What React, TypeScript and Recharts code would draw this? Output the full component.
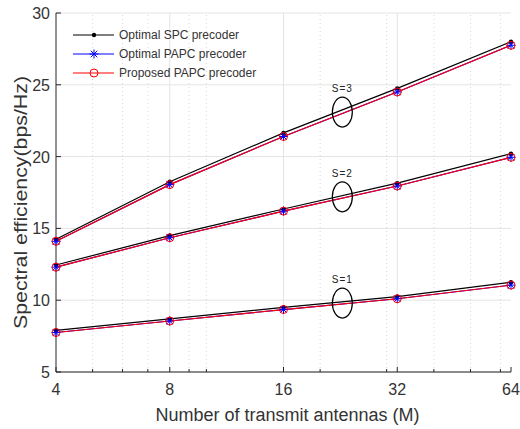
import { LineChart, Line, XAxis, YAxis, CartesianGrid, ReferenceLine, ReferenceDot } from 'recharts'

const ANTENNAS = [4, 8, 16, 32, 64]
const MINOR_X = [5, 6, 7, 9, 10, 20, 30, 40, 50, 60]
const Y_TICKS = [5, 10, 15, 20, 25, 30]

// optimal SPC precoder (black)
const spcS1 = [7.9, 8.7, 9.5, 10.25, 11.25]
const spcS2 = [12.45, 14.5, 16.35, 18.15, 20.2]
const spcS3 = [14.25, 18.25, 21.65, 24.75, 28.0]
// optimal PAPC precoder (blue)
const papcS1 = [7.75, 8.55, 9.35, 10.1, 11.05]
const papcS2 = [12.3, 14.35, 16.2, 17.95, 19.95]
const papcS3 = [14.1, 18.05, 21.4, 24.5, 27.75]
// proposed PAPC precoder (red)
const propS1 = [7.75, 8.55, 9.35, 10.1, 11.05]
const propS2 = [12.3, 14.35, 16.2, 17.95, 19.95]
const propS3 = [14.1, 18.05, 21.4, 24.5, 27.75]

// annotation ellipses: label, x (antennas), y (bps/Hz)
const GROUPS = [
  { label: 'S=1', m: 22.9, y: 9.8 },
  { label: 'S=2', m: 22.9, y: 17.2 },
  { label: 'S=3', m: 22.9, y: 23.1 },
]

const data = ANTENNAS.map((m, i) => ({
  m,
  spc1: spcS1[i], spc2: spcS2[i], spc3: spcS3[i],
  papc1: papcS1[i], papc2: papcS2[i], papc3: papcS3[i],
  prop1: propS1[i], prop2: propS2[i], prop3: propS3[i],
}))

const FONT = '"Liberation Sans", Arial, sans-serif'
const AXIS = '#262626'
const TEXT = '#333333'

function SpcDot({ cx, cy }: any) {
  if (cx == null || cy == null) return null
  return <circle cx={cx} cy={cy} r={2.2} fill="#000" />
}

function StarDot({ cx, cy }: any) {
  if (cx == null || cy == null) return null
  const s = 4.5
  const d = s * 0.72
  return (
    <g stroke="#0000ff" strokeWidth={1}>
      <line x1={cx - s} y1={cy} x2={cx + s} y2={cy} />
      <line x1={cx} y1={cy - s} x2={cx} y2={cy + s} />
      <line x1={cx - d} y1={cy - d} x2={cx + d} y2={cy + d} />
      <line x1={cx - d} y1={cy + d} x2={cx + d} y2={cy - d} />
    </g>
  )
}

function CircleDot({ cx, cy }: any) {
  if (cx == null || cy == null) return null
  return <circle cx={cx} cy={cy} r={4} fill="none" stroke="#ff0000" strokeWidth={1} />
}

function BottomTick({ x, y, payload }: any) {
  const major = ANTENNAS.includes(payload.value)
  return (
    <g>
      <line x1={x} y1={y} x2={x} y2={y - (major ? 5 : 3)} stroke={AXIS} />
      {major && (
        <text x={x} y={y + 23} textAnchor="middle" fontSize={16} fill={TEXT} fontFamily={FONT}>
          {payload.value}
        </text>
      )}
    </g>
  )
}

function TopTick({ x, y, payload }: any) {
  const major = ANTENNAS.includes(payload.value)
  return <line x1={x} y1={y} x2={x} y2={y + (major ? 5 : 3)} stroke={AXIS} />
}

function LeftTick({ x, y, payload }: any) {
  return (
    <g>
      <line x1={x} y1={y} x2={x + 5} y2={y} stroke={AXIS} />
      <text x={x - 6} y={y + 6} textAnchor="end" fontSize={16} fill={TEXT} fontFamily={FONT}>
        {payload.value}
      </text>
    </g>
  )
}

function RightTick({ x, y }: any) {
  return <line x1={x} y1={y} x2={x - 5} y2={y} stroke={AXIS} />
}

function YLabel({ viewBox }: any) {
  const cx = 21
  const cy = viewBox.y + viewBox.height / 2 + 10
  return (
    <text
      x={cx}
      y={cy}
      transform={`rotate(-90 ${cx} ${cy})`}
      textAnchor="middle"
      dominantBaseline="central"
      fontSize={18}
      fill={TEXT}
      fontFamily={FONT}
      textLength={253}
      lengthAdjust="spacingAndGlyphs"
    >
      Spectral efficiency(bps/Hz)
    </text>
  )
}

function XLabel({ viewBox }: any) {
  const cx = viewBox.x + viewBox.width / 2 + 4
  return (
    <text x={cx} y={421} textAnchor="middle" fontSize={18} fill={TEXT} fontFamily={FONT}>
      Number of transmit antennas (M)
    </text>
  )
}

function GroupMark({ cx, cy, label }: any) {
  if (cx == null || cy == null) return null
  return (
    <g>
      <ellipse cx={cx} cy={cy} rx={10} ry={15} fill="none" stroke="#000" strokeWidth={1.2} />
      <text x={cx} y={cy - 20} textAnchor="middle" fontSize={10} fill="#222" fontFamily={FONT} letterSpacing={1}>
        {label}
      </text>
    </g>
  )
}

const LEGEND_ITEMS = [
  { name: 'Optimal SPC precoder', color: '#000', Dot: SpcDot },
  { name: 'Optimal PAPC precoder', color: '#0000ff', Dot: StarDot },
  { name: 'Proposed PAPC precoder', color: '#ff0000', Dot: CircleDot },
]

function LegendBox() {
  return (
    <svg width={190} height={60} style={{ position: 'absolute', left: 68, top: 25 }}>
      {LEGEND_ITEMS.map((it, i) => {
        const y = 10 + i * 19
        return (
          <g key={it.name}>
            <line x1={5} y1={y} x2={46} y2={y} stroke={it.color} strokeWidth={1.2} />
            <it.Dot cx={26} cy={y} />
            <text x={51} y={y + 4} fontSize={12} fill={TEXT} fontFamily={FONT}>{it.name}</text>
          </g>
        )
      })}
    </svg>
  )
}

export default function App() {
  return (
    <div style={{ position: 'absolute', left: 0, top: 0, width: 520, height: 429, background: '#fff' }}>
      <LineChart width={520} height={429} data={data} margin={{ top: 13, right: 9, bottom: 0, left: 0 }}>
        <CartesianGrid vertical={false} stroke="#e4e4e4" />
        {MINOR_X.map((v) => (
          <ReferenceLine key={v} x={v} stroke="#d6d6d6" strokeDasharray="1 3" />
        ))}
        {ANTENNAS.slice(1, -1).map((v) => (
          <ReferenceLine key={v} x={v} stroke="#e4e4e4" />
        ))}
        <XAxis
          dataKey="m"
          type="number"
          scale="log"
          domain={[4, 64]}
          ticks={[...ANTENNAS, ...MINOR_X]}
          interval={0}
          height={57}
          tickSize={0}
          tickMargin={0}
          tickLine={false}
          stroke={AXIS}
          tick={<BottomTick />}
          label={<XLabel />}
        />
        <XAxis
          xAxisId="top"
          orientation="top"
          dataKey="m"
          type="number"
          scale="log"
          domain={[4, 64]}
          ticks={[...ANTENNAS, ...MINOR_X]}
          interval={0}
          height={0}
          tickSize={0}
          tickMargin={0}
          tickLine={false}
          stroke={AXIS}
          tick={<TopTick />}
        />
        <YAxis
          domain={[5, 30]}
          ticks={Y_TICKS}
          interval={0}
          width={56}
          tickSize={0}
          tickMargin={0}
          tickLine={false}
          stroke={AXIS}
          tick={<LeftTick />}
          label={<YLabel />}
        />
        <YAxis
          yAxisId="right"
          orientation="right"
          domain={[5, 30]}
          ticks={Y_TICKS}
          interval={0}
          width={0}
          tickSize={0}
          tickMargin={0}
          tickLine={false}
          stroke={AXIS}
          tick={<RightTick />}
        />
        {(['spc1', 'spc2', 'spc3'] as const).map((k) => (
          <Line key={k} dataKey={k} stroke="#000" strokeWidth={1.2} dot={<SpcDot />} isAnimationActive={false} />
        ))}
        {(['papc1', 'papc2', 'papc3'] as const).map((k) => (
          <Line key={k} dataKey={k} stroke="#0000ff" strokeWidth={1.2} dot={<StarDot />} isAnimationActive={false} />
        ))}
        {(['prop1', 'prop2', 'prop3'] as const).map((k) => (
          <Line key={k} dataKey={k} stroke="#ff0000" strokeWidth={1.2} dot={<CircleDot />} isAnimationActive={false} />
        ))}
        {GROUPS.map((g) => (
          <ReferenceDot key={g.label} x={g.m} y={g.y} r={0} shape={(p: any) => <GroupMark {...p} label={g.label} />} />
        ))}
      </LineChart>
      <LegendBox />
    </div>
  )
}
